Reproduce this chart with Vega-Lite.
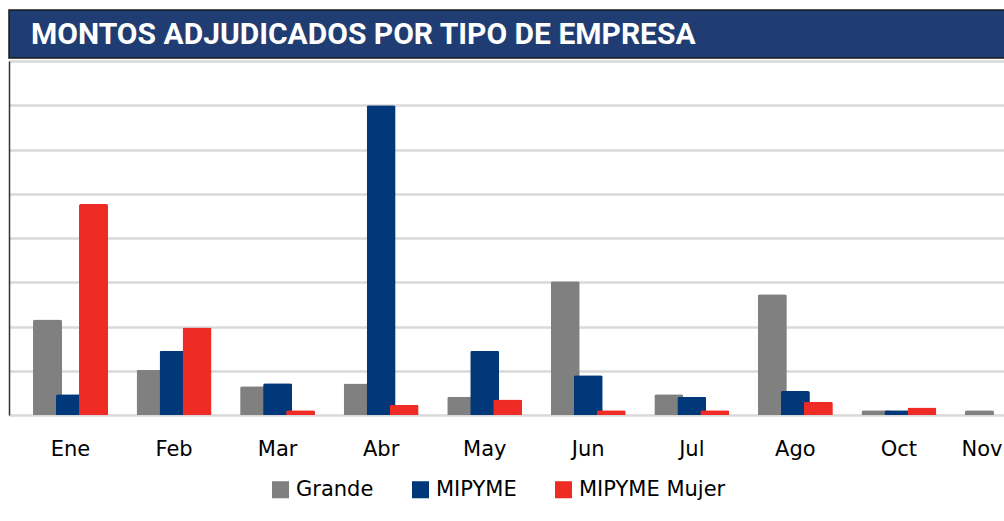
{
  "$schema": "https://vega.github.io/schema/vega-lite/v6.json",
  "background": "white",
  "padding": {"left": 8, "top": 9, "right": 0, "bottom": 0},
  "spacing": 2,
  "config": {"view": {"stroke": null}, "concat": {"spacing": 2}},
  "vconcat": [
    {
      "width": 1055,
      "height": 48,
      "view": {"fill": "#1F3D72", "stroke": "#1a1a1a", "strokeWidth": 1.5},
      "data": {"values": [{"titulo": "MONTOS ADJUDICADOS POR TIPO DE EMPRESA"}]},
      "mark": {
        "type": "text",
        "align": "left",
        "baseline": "middle",
        "dx": 22,
        "dy": 1,
        "color": "white",
        "font": "Roboto",
        "fontWeight": "bold",
        "fontSize": 30
      },
      "encoding": {
        "text": {"field": "titulo", "type": "nominal"},
        "x": {"datum": 0, "type": "quantitative", "scale": {"domain": [0, 1]}, "axis": null}
      }
    },
    {
      "width": 1055,
      "height": 354,
      "data": {
        "values": [
          {"mes": "Ene", "tipo": "Grande", "monto": 2.16},
          {"mes": "Feb", "tipo": "Grande", "monto": 1.02},
          {"mes": "Mar", "tipo": "Grande", "monto": 0.65},
          {"mes": "Abr", "tipo": "Grande", "monto": 0.71},
          {"mes": "May", "tipo": "Grande", "monto": 0.41},
          {"mes": "Jun", "tipo": "Grande", "monto": 3.02},
          {"mes": "Jul", "tipo": "Grande", "monto": 0.47},
          {"mes": "Ago", "tipo": "Grande", "monto": 2.73},
          {"mes": "Oct", "tipo": "Grande", "monto": 0.11},
          {"mes": "Nov", "tipo": "Grande", "monto": 0.11},
          {"mes": "Ene", "tipo": "MIPYME", "monto": 0.47},
          {"mes": "Feb", "tipo": "MIPYME", "monto": 1.45},
          {"mes": "Mar", "tipo": "MIPYME", "monto": 0.72},
          {"mes": "Abr", "tipo": "MIPYME", "monto": 7.0},
          {"mes": "May", "tipo": "MIPYME", "monto": 1.45},
          {"mes": "Jun", "tipo": "MIPYME", "monto": 0.9},
          {"mes": "Jul", "tipo": "MIPYME", "monto": 0.41},
          {"mes": "Ago", "tipo": "MIPYME", "monto": 0.54},
          {"mes": "Oct", "tipo": "MIPYME", "monto": 0.11},
          {"mes": "Ene", "tipo": "MIPYME Mujer", "monto": 4.77},
          {"mes": "Feb", "tipo": "MIPYME Mujer", "monto": 1.98},
          {"mes": "Mar", "tipo": "MIPYME Mujer", "monto": 0.11},
          {"mes": "Abr", "tipo": "MIPYME Mujer", "monto": 0.23},
          {"mes": "May", "tipo": "MIPYME Mujer", "monto": 0.35},
          {"mes": "Jun", "tipo": "MIPYME Mujer", "monto": 0.11},
          {"mes": "Jul", "tipo": "MIPYME Mujer", "monto": 0.11},
          {"mes": "Ago", "tipo": "MIPYME Mujer", "monto": 0.3},
          {"mes": "Oct", "tipo": "MIPYME Mujer", "monto": 0.17}
        ]
      },
      "mark": {"type": "bar", "width": 29, "cornerRadiusTopLeft": 2, "cornerRadiusTopRight": 2},
      "encoding": {
        "x": {
          "field": "mes",
          "type": "nominal",
          "sort": ["Ene", "Feb", "Mar", "Abr", "May", "Jun", "Jul", "Ago", "Oct", "Nov"],
          "scale": {"paddingInner": 0, "paddingOuter": 0.094, "align": 0.5},
          "axis": {
            "title": null,
            "domain": false,
            "ticks": false,
            "labelAngle": 0,
            "labelFont": "DejaVu Sans",
            "labelFontSize": 21,
            "labelColor": "#000000",
            "labelPadding": 23,
            "labelAlign": {"condition": {"test": "datum.value === 'Nov'", "value": "right"}, "value": "center"}
          }
        },
        "xOffset": {
          "field": "tipo",
          "type": "nominal",
          "scale": {"domain": ["Grande", "MIPYME", "MIPYME Mujer"], "paddingInner": 0, "paddingOuter": 0.751}
        },
        "y": {
          "field": "monto",
          "type": "quantitative",
          "scale": {"domain": [0, 8], "nice": false},
          "axis": {
            "title": null,
            "labels": false,
            "ticks": false,
            "domain": true,
            "domainColor": "#333333",
            "domainWidth": 1.5,
            "values": [0, 1, 2, 3, 4, 5, 6, 7, 8],
            "grid": true,
            "gridColor": "#d9d9d9",
            "gridWidth": 2.5
          }
        },
        "color": {
          "field": "tipo",
          "type": "nominal",
          "scale": {"domain": ["Grande", "MIPYME", "MIPYME Mujer"], "range": ["#808080", "#00387A", "#EE2B24"]},
          "legend": {
            "title": null,
            "orient": "none",
            "direction": "horizontal",
            "legendX": 261,
            "legendY": 469,
            "symbolType": "square",
            "symbolSize": 290,
            "symbolStrokeWidth": 0,
            "symbolOpacity": 1,
            "labelFont": "DejaVu Sans",
            "labelFontSize": 21,
            "labelColor": "#000000",
            "labelOffset": 5,
            "columnPadding": 36
          }
        }
      }
    }
  ]
}
